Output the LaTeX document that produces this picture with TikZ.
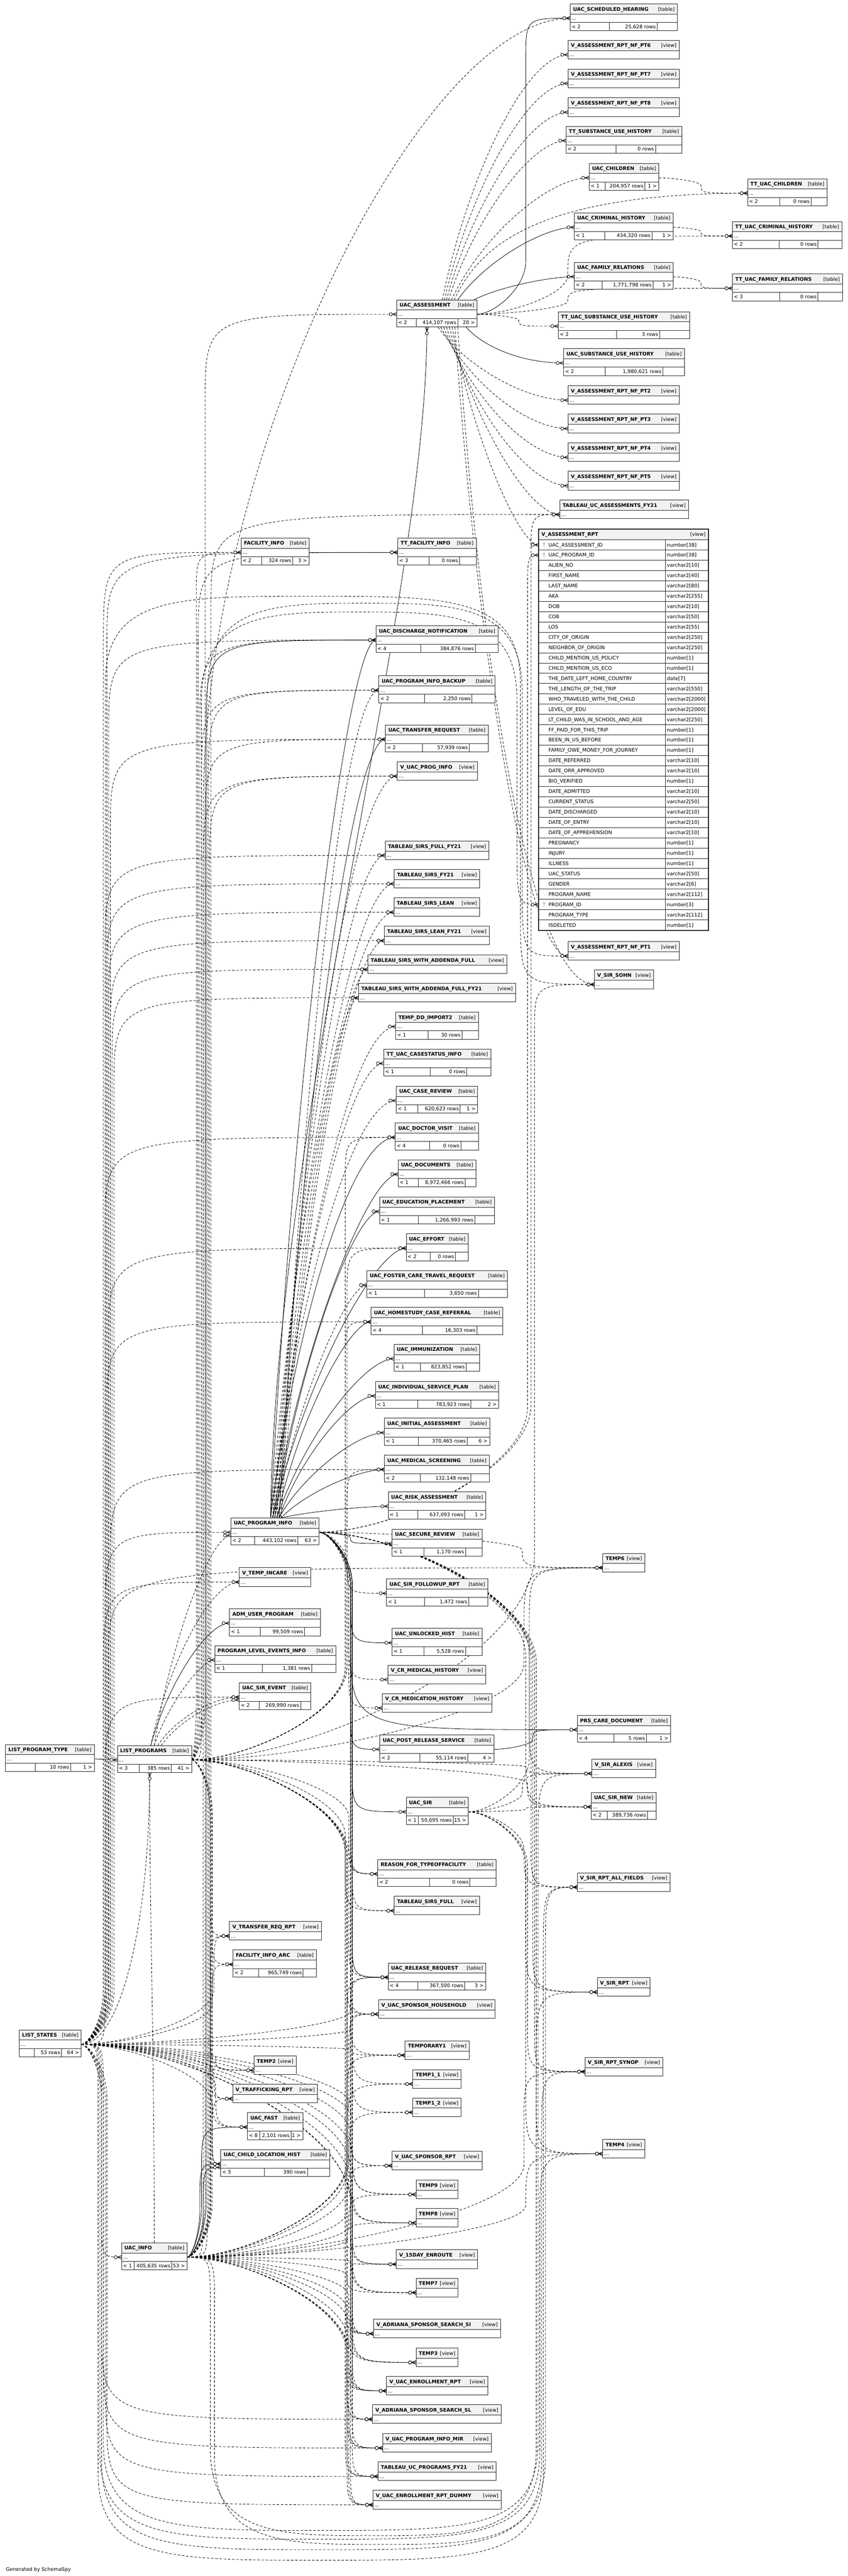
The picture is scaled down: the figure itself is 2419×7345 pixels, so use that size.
\documentclass[tikz,border=0pt]{standalone}
\usepackage{fontspec}
\setmainfont{DejaVu Sans}
\usetikzlibrary{calc}
\pgfdeclarelayer{bg}
\pgfsetlayers{bg,main}
\newcommand\ffr{\fontsize{14.2}{17}\selectfont}
\newcommand\ffb{\bfseries\fontsize{14.2}{17}\selectfont}
\tikzset{
  tline/.style={line width=1.4pt, draw=black!85},
  hdr/.style={fill=black!5},
  frame/.style={draw=black!85, line width=1.4pt, anchor=north west, inner sep=0pt, outer sep=0pt},
  txt/.style={inner sep=0pt, outer sep=0pt},
  ebase/.style={line width=1.2pt, draw=black},
  dsh/.style={ebase, dash pattern=on 7pt off 5pt},
  sol/.style={ebase},
}
\newcommand\MK[2][0]{\begin{scope}[shift={(#2)}, rotate=#1]
  \draw[line width=1.2pt] (-12,0) -- (0,5) (-12,0) -- (0,-5) (-12,0) -- (0,0);
  \draw[line width=1.2pt, fill=white] (-17,0) circle (4.5pt);
\end{scope}}
\newcommand\EE[4][dsh]{%
  \draw[#1] let \p1=(#2), \p2=(#3), \n5={(\y2>\y1)*2-1},
    \n3={min(max(150,0.6*abs(#4-\x1)),abs(\y2-\y1)/2)},
    \n4={min(max(120,0.8*abs(\x2-#4)),260,abs(\y2-\y1)/2)},
    \n6={\y1+\n5*\n3}, \n7={\y2-\n5*\n4},
    \n8={\x1+0.35*(#4-\x1)}, \n9={\y1+0.5*\n5*\n3} in
    (\p1) .. controls (\n8,\y1) and (#4,\n9) .. (#4,\n6) -- (#4,\n7) .. controls (#4,\y2) .. (\p2);
  \MK{#3}}
\newcommand\EV[4][dsh]{%
  \draw[#1] let \p1=(#2), \p2=(#3), \n1={0.5*(\y1+\y2)}, \n2={\x1+0.3*(#4-\x1)} in
    (\p1) .. controls (\n2,\n1) and (#4,\y2) .. (\p2);
  \MK{#3}}
% route below everything: parent, child, left channel x, bottom y, right channel x
\newcommand\EB[6][dsh]{%
  \draw[#1] let \p1=(#2), \p2=(#3) in
    (\p1) .. controls (#4,\y1) .. (#4,\y1-150) -- (#4,#5+250)
    .. controls (#4,#5) and (#4+200,#5) .. ({0.5*(#4+#6)},#5)
    .. controls (#6-200,#5) and (#6,#5) .. (#6,#5+250) -- (#6,\y2-200)
    .. controls (#6,\y2) .. (\p2);
  \MK{#3}}
% route over the top: parent, child, left channel x, top y, right channel x
\newcommand\EA[6][dsh]{%
  \draw[#1] let \p1=(#2), \p2=(#3) in
    (\p1) .. controls (#4,\y1) .. (#4,\y1+150) -- (#4,#5-250)
    .. controls (#4,#5) and (#4+200,#5) .. ({0.5*(#4+#6)},#5)
    .. controls (#6-200,#5) and (#6,#5) .. (#6,#5-250) -- (#6,\y2+200)
    .. controls (#6,\y2) .. (\p2);
  \MK{#3}}
\newcommand\TB[9]{\def\zid{#1}\def\zx{#2}\def\zy{#3}\def\zw{#4}\def\zt{#5}\def\zda{#6}\def\zdb{#7}\def\zl{#8}\def\zn{#9}\zfin}
\newcommand\zfin[1]{%
  \pgfmathsetmacro\zXr{\zx+\zw}%
  \pgfmathsetmacro\zYa{-\zy}%
  \pgfmathsetmacro\zYb{-\zy-29}%
  \pgfmathsetmacro\zYc{-\zy-53}%
  \pgfmathsetmacro\zYd{-\zy-77}%
  \pgfmathsetmacro\zYm{-\zy-41}%
  \fill[hdr] (\zx,\zYa) rectangle (\zXr,\zYb);
  \fill[white] (\zx,\zYb) rectangle (\zXr,\zYd);
  \draw[tline] (\zx,\zYb) -- (\zXr,\zYb) (\zx,\zYc) -- (\zXr,\zYc) (\zda,\zYc) -- (\zda,\zYd) (\zdb,\zYc) -- (\zdb,\zYd);
  \node[frame, minimum width=\zw pt, minimum height=77pt] (\zid) at (\zx,\zYa) {};
  \node[txt, font=\ffb, anchor=base west] (\zid-t) at (\zx+8,\zYa-20) {\expandafter\detokenize\expandafter{\zt}};
  \node[txt, font=\ffr, anchor=base east] (\zid-k) at (\zXr-8,\zYa-20) {[table]};
  \node[txt, font=\ffr, anchor=base west] (\zid-r) at (\zx+4,\zYa-46) {...};
  \node[txt, font=\ffr, anchor=base west] (\zid-a) at (\zx+4,\zYa-70) {\zl};
  \node[txt, font=\ffr, anchor=base east] (\zid-b) at (\zdb-4,\zYa-70) {\zn};
  \node[txt, font=\ffr, anchor=base east] (\zid-c) at (\zXr-6,\zYa-70) {#1};
  \coordinate (\zid-in) at (\zx,\zYm);
  \coordinate (\zid-out) at (\zXr,\zYm);
}
\newcommand\VW[5]{%
  \pgfmathsetmacro\zXr{#2+#4}%
  \pgfmathsetmacro\zYa{-#3}%
  \pgfmathsetmacro\zYb{-#3-29}%
  \pgfmathsetmacro\zYd{-#3-53}%
  \pgfmathsetmacro\zYm{-#3-41}%
  \fill[hdr] (#2,\zYa) rectangle (\zXr,\zYb);
  \fill[white] (#2,\zYb) rectangle (\zXr,\zYd);
  \draw[tline] (#2,\zYb) -- (\zXr,\zYb);
  \node[frame, minimum width=#4pt, minimum height=53pt] (#1) at (#2,\zYa) {};
  \node[txt, font=\ffb, anchor=base west] (#1-t) at (#2+8,\zYa-20) {\detokenize{#5}};
  \node[txt, font=\ffr, anchor=base east] (#1-k) at (\zXr-8,\zYa-20) {[view]};
  \node[txt, font=\ffr, anchor=base west] (#1-r) at (#2+4,\zYa-46) {...};
  \coordinate (#1-in) at (#2,\zYm);
  \coordinate (#1-out) at (\zXr,\zYm);
}
\begin{document}
\begin{tikzpicture}[x=1pt,y=1pt]
\useasboundingbox (0,0) rectangle (2419,-7345);
% ---------------- tables ----------------
\TB{sh}{1627}{11}{306}{UAC_SCHEDULED_HEARING}{1738}{1875}{< 2}{25,628 rows}{}
\VW{pt6}{1621}{115}{317}{V_ASSESSMENT_RPT_NF_PT6}
\VW{pt7}{1621}{197}{317}{V_ASSESSMENT_RPT_NF_PT7}
\VW{pt8}{1621}{279}{317}{V_ASSESSMENT_RPT_NF_PT8}
\TB{tsuh}{1615}{360}{330}{TT_SUBSTANCE_USE_HISTORY}{1758}{1870}{< 2}{0 rows}{}
\TB{ch}{1681}{466}{199}{UAC_CHILDREN}{1727}{1840}{< 1}{204,957 rows}{1 >}
\TB{tch}{2133}{510}{227}{TT_UAC_CHILDREN}{2225}{2314}{< 2}{0 rows}{}
\TB{crh}{1639}{607}{282}{UAC_CRIMINAL_HISTORY}{1725}{1860}{< 1}{434,320 rows}{1 >}
\TB{tcrh}{2090}{632}{312}{TT_UAC_CRIMINAL_HISTORY}{2224}{2334}{< 2}{0 rows}{}
\TB{fr}{1639}{748}{282}{UAC_FAMILY_RELATIONS}{1718}{1863}{< 2}{1,771,798 rows}{1 >}
\TB{tfr}{2090}{781}{314}{TT_UAC_FAMILY_RELATIONS}{2225}{2334}{< 3}{0 rows}{}
\TB{ua}{1132}{855}{229}{UAC_ASSESSMENT}{1187}{1306}{< 2}{414,107 rows}{20 >}
\TB{tsuh2}{1593}{889}{375}{TT_UAC_SUBSTANCE_USE_HISTORY}{1759}{1882}{< 2}{3 rows}{}
\TB{suh}{1608}{994}{345}{UAC_SUBSTANCE_USE_HISTORY}{1727}{1891}{< 2}{1,980,621 rows}{}
\VW{pt2}{1621}{1100}{317}{V_ASSESSMENT_RPT_NF_PT2}
\VW{pt3}{1621}{1181}{317}{V_ASSESSMENT_RPT_NF_PT3}
\VW{pt4}{1621}{1263}{317}{V_ASSESSMENT_RPT_NF_PT4}
\VW{pt5}{1621}{1344}{317}{V_ASSESSMENT_RPT_NF_PT5}
\VW{tua}{1597}{1426}{367}{TABLEAU_UC_ASSESSMENTS_FY21}
\VW{pt1}{1621}{2685}{317}{V_ASSESSMENT_RPT_NF_PT1}
\VW{sohn}{1696}{2766}{169}{V_SIR_SOHN}
\TB{fi}{688}{1534}{194}{FACILITY_INFO}{747}{835}{< 2}{324 rows}{3 >}
\TB{tfi}{1135}{1534}{224}{TT_FACILITY_INFO}{1225}{1311}{< 3}{0 rows}{}
\TB{dn}{1073}{1784}{348}{UAC_DISCHARGE_NOTIFICATION}{1201}{1356}{< 4}{384,876 rows}{}
\TB{pib}{1081}{1927}{332}{UAC_PROGRAM_INFO_BACKUP}{1211}{1347}{< 2}{2,250 rows}{}
\TB{tr}{1100}{2067}{293}{UAC_TRANSFER_REQUEST}{1205}{1339}{< 2}{57,939 rows}{}
\VW{vpi}{1134}{2172}{228}{V_UAC_PROG_INFO}
\VW{tsff}{1099}{2398}{296}{TABLEAU_SIRS_FULL_FY21}
\VW{tsf}{1125}{2479}{244}{TABLEAU_SIRS_FY21}
\VW{tsl}{1124}{2560}{245}{TABLEAU_SIRS_LEAN}
\VW{tslf}{1097}{2641}{299}{TABLEAU_SIRS_LEAN_FY21}
\VW{tswa}{1050}{2723}{396}{TABLEAU_SIRS_WITH_ADDENDA_FULL}
\VW{tswaf}{1023}{2804}{448}{TABLEAU_SIRS_WITH_ADDENDA_FULL_FY21}
\TB{tdd}{1129}{2886}{236}{TEMP_DD_IMPORT2}{1222}{1318}{< 1}{30 rows}{}
\TB{tcs}{1095}{2991}{305}{TT_UAC_CASESTATUS_INFO}{1227}{1332}{< 1}{0 rows}{}
\TB{cr}{1131}{3097}{232}{UAC_CASE_REVIEW}{1192}{1313}{< 1}{620,623 rows}{1 >}
\TB{dv}{1128}{3202}{237}{UAC_DOCTOR_VISIT}{1226}{1315}{< 4}{0 rows}{}
\TB{doc}{1136}{3307}{222}{UAC_DOCUMENTS}{1194}{1327}{< 1}{8,972,466 rows}{}
\TB{ep}{1083}{3413}{328}{UAC_EDUCATION_PLACEMENT}{1194}{1355}{< 1}{1,266,993 rows}{}
\TB{ef}{1159}{3518}{177}{UAC_EFFORT}{1227}{1300}{< 2}{0 rows}{}
\TB{fc}{1047}{3623}{401}{UAC_FOSTER_CARE_TRAVEL_REQUEST}{1211}{1365}{< 1}{3,650 rows}{}
\TB{hs}{1059}{3728}{376}{UAC_HOMESTUDY_CASE_REFERRAL}{1205}{1361}{< 4}{16,303 rows}{}
\TB{im}{1124}{3833}{245}{UAC_IMMUNIZATION}{1200}{1330}{< 1}{823,852 rows}{}
\TB{isp}{1071}{3939}{352}{UAC_INDIVIDUAL_SERVICE_PLAN}{1192}{1344}{< 1}{783,923 rows}{2 >}
\TB{ia}{1097}{4044}{300}{UAC_INITIAL_ASSESSMENT}{1194}{1333}{< 1}{370,465 rows}{6 >}
\TB{ms}{1097}{4149}{299}{UAC_MEDICAL_SCREENING}{1200}{1343}{< 2}{132,148 rows}{}
\TB{ra}{1108}{4254}{278}{UAC_RISK_ASSESSMENT}{1192}{1326}{< 1}{637,093 rows}{1 >}
\TB{pi}{659}{4328}{251}{UAC_PROGRAM_INFO}{726}{850}{< 2}{443,102 rows}{63 >}
\TB{sr}{1119}{4360}{256}{UAC_SECURE_REVIEW}{1209}{1328}{< 1}{1,170 rows}{}
\VW{ti}{683}{4470}{204}{V_TEMP_INCARE}
\TB{sfr}{1103}{4502}{289}{UAC_SIR_FOLLOWUP_RPT}{1211}{1337}{< 1}{1,472 rows}{}
\TB{aup}{655}{4587}{259}{ADM_USER_PROGRAM}{743}{869}{< 1}{99,509 rows}{}
\TB{uh}{1119}{4643}{256}{UAC_UNLOCKED_HIST}{1209}{1328}{< 1}{5,528 rows}{}
\TB{ple}{613}{4692}{345}{PROGRAM_LEVEL_EVENTS_INFO}{749}{889}{< 1}{1,381 rows}{}
\VW{cmh}{1107}{4748}{279}{V_CR_MEDICAL_HISTORY}
\TB{se}{683}{4798}{204}{UAC_SIR_EVENT}{739}{858}{< 2}{269,990 rows}{}
\VW{cmd}{1091}{4829}{313}{V_CR_MEDICATION_HISTORY}
\TB{prs}{1084}{4947}{325}{UAC_POST_RELEASE_SERVICE}{1198}{1335}{< 2}{55,114 rows}{4 >}
\TB{sir}{1159}{5125}{177}{UAC_SIR}{1194}{1293}{< 1}{50,695 rows}{15 >}
\TB{rtf}{1078}{5302}{338}{REASON_FOR_TYPEOFFACILITY}{1226}{1341}{< 2}{0 rows}{}
\VW{tsfull}{1125}{5407}{243}{TABLEAU_SIRS_FULL}
\VW{trr}{655}{5479}{262}{V_TRANSFER_REQ_RPT}
\TB{fia}{665}{5560}{238}{FACILITY_INFO_ARC}{738}{865}{< 2}{965,749 rows}{}
\TB{rr}{1108}{5597}{278}{UAC_RELEASE_REQUEST}{1192}{1326}{< 4}{367,500 rows}{3 >}
\VW{sh2}{1080}{5702}{333}{V_UAC_SPONSOR_HOUSEHOLD}
\VW{tmp1}{1156}{5819}{183}{TEMPORARY1}
\VW{temp2}{725}{5862}{120}{TEMP2}
\VW{t11}{1178}{5901}{138}{TEMP1_1}
\VW{traf}{664}{5943}{242}{V_TRAFFICKING_RPT}
\VW{t12}{1178}{5982}{138}{TEMP1_2}
\TB{fast}{706}{6024}{158}{UAC_FAST}{741}{830}{< 8}{2,101 rows}{1 >}
\TB{clh}{630}{6129}{311}{UAC_CHILD_LOCATION_HIST}{755}{877}{< 5}{390 rows}{}
\VW{vsr}{1119}{6134}{256}{V_UAC_SPONSOR_RPT}
\VW{t9}{1187}{6216}{120}{TEMP9}
\VW{t8}{1187}{6297}{120}{TEMP8}
\VW{enr}{1131}{6415}{232}{V_15DAY_ENROUTE}
\VW{t7}{1187}{6496}{120}{TEMP7}
\VW{asi}{1066}{6613}{362}{V_ADRIANA_SPONSOR_SEARCH_SI}
\VW{t3}{1187}{6695}{120}{TEMP3}
\VW{er}{1103}{6776}{289}{V_UAC_ENROLLMENT_RPT}
\VW{asl}{1063}{6857}{367}{V_ADRIANA_SPONSOR_SEARCH_SL}
\VW{mir}{1092}{6939}{310}{V_UAC_PROGRAM_INFO_MIR}
\VW{tup}{1079}{7020}{337}{TABLEAU_UC_PROGRAMS_FY21}
\VW{erd}{1064}{7101}{366}{V_UAC_ENROLLMENT_RPT_DUMMY}
\TB{lpt}{16}{4974}{253}{LIST_PROGRAM_TYPE}{101}{202}{}{10 rows}{1 >}
\TB{lp}{335}{4977}{212}{LIST_PROGRAMS}{398}{489}{< 3}{385 rows}{41 >}
\TB{ls}{55}{5788}{177}{LIST_STATES}{97}{176}{}{53 rows}{64 >}
\TB{ui}{347}{6395}{187}{UAC_INFO}{382}{490}{< 1}{405,635 rows}{53 >}
\VW{t6}{1720}{4429}{120}{TEMP6}
\TB{pcd}{1647}{4891}{266}{PRS_CARE_DOCUMENT}{1752}{1844}{< 4}{5 rows}{1 >}
\VW{alx}{1689}{5016}{181}{V_SIR_ALEXIS}
\TB{sn}{1687}{5111}{185}{UAC_SIR_NEW}{1732}{1847}{< 2}{389,736 rows}{}
\VW{raf}{1647}{5340}{265}{V_SIR_RPT_ALL_FIELDS}
\VW{vsrr}{1704}{5639}{151}{V_SIR_RPT}
\VW{syn}{1669}{5866}{222}{V_SIR_RPT_SYNOP}
\VW{t4}{1720}{6100}{120}{TEMP4}
% ---------------- V_ASSESSMENT_RPT ----------------
\fill[hdr] (1537,-1508) rectangle (2021,-1539);
\fill[white] (1537,-1539) rectangle (2021,-2652.4);
\draw[tline] (1537,-1539) -- (2021,-1539) (1899,-1539) -- (1899,-2652.4);
\foreach \nm/\ty [count=\i from 0] in {UAC_ASSESSMENT_ID/number[38],UAC_PROGRAM_ID/number[38],ALIEN_NO/varchar2[10],FIRST_NAME/varchar2[40],LAST_NAME/varchar2[80],AKA/varchar2[255],DOB/varchar2[10],COB/varchar2[50],LOS/varchar2[55],CITY_OF_ORIGIN/varchar2[250],NEIGHBOR_OF_ORIGIN/varchar2[250],CHILD_MENTION_US_POLICY/number[1],CHILD_MENTION_US_ECO/number[1],THE_DATE_LEFT_HOME_COUNTRY/date[7],THE_LENGTH_OF_THE_TRIP/varchar2[550],WHO_TRAVELED_WITH_THE_CHILD/varchar2[2000],LEVEL_OF_EDU/varchar2[2000],LT_CHILD_WAS_IN_SCHOOL_AND_AGE/varchar2[250],FF_PAID_FOR_THIS_TRIP/number[1],BEEN_IN_US_BEFORE/number[1],FAMILY_OWE_MONEY_FOR_JOURNEY/number[1],DATE_REFERRED/varchar2[10],DATE_ORR_APPROVED/varchar2[10],BIO_VERIFIED/number[1],DATE_ADMITTED/varchar2[10],CURRENT_STATUS/varchar2[50],DATE_DISCHARGED/varchar2[10],DATE_OF_ENTRY/varchar2[10],DATE_OF_APPREHENSION/varchar2[10],PREGNANCY/number[1],INJURY/number[1],ILLNESS/number[1],UAC_STATUS/varchar2[50],GENDER/varchar2[6],PROGRAM_NAME/varchar2[112],PROGRAM_ID/number[3],PROGRAM_TYPE/varchar2[112],ISDELETED/number[1]}{
  \pgfmathsetmacro\zrt{-1539-29.3*\i}
  \pgfmathsetmacro\zrb{-1539-29.3*(\i+1)}
  \draw[tline] (1537,\zrb) -- (2021,\zrb);
  \node[txt, font=\ffr, anchor=base west] (var-n\i) at (1565,\zrt-19.6) {\expandafter\detokenize\expandafter{\nm}};
  \node[txt, font=\ffr, anchor=base west] (var-y\i) at (1903,\zrt-19.6) {\ty};
}
\foreach \k in {0,1,35}{
  \pgfmathsetmacro\zkm{-1539-29.3*\k-14.65}
  \draw[black!30, line width=1.5pt] (1552,\zkm+4) circle (2.5pt) (1552,\zkm+1.5) -- (1552,\zkm-7);
}
\node[frame, line width=3pt, minimum width=484pt, minimum height=1144.4pt] (var) at (1537,-1508) {};
\node[txt, font=\ffb, anchor=base west] (var-t) at (1545,-1528) {\detokenize{V_ASSESSMENT_RPT}};
\node[txt, font=\ffr, anchor=base east] (var-k) at (2013,-1528) {[view]};
\coordinate (var-r0) at (1537,-1553.65);
\coordinate (var-r1) at (1537,-1582.95);
\coordinate (var-r35) at (1537,-2579.15);
\node[txt, font=\ffr, anchor=base west] (gen) at (17,-7331) {Generated by SchemaSpy};
% ---------------- extra anchors ----------------
\foreach \n/\xx in {1/1262,2/1268,3/1274,4/1280,5/1288,6/1296,7/1306,8/1352}{\coordinate (uat\n) at (\xx,-855);}
\foreach \n/\xx in {1/1250,2/1258,3/1266,4/1274,5/1282,6/1290,7/1298,8/1306,9/1330}{\coordinate (uab\n) at (\xx,-933);}
\foreach \n/\xx in {0/772,1/778,2/784,3/790,4/796,5/802}{\coordinate (pit\n) at (\xx,-4328);}
\foreach \n/\xx in {1/430,2/440,3/450,4/460}{\coordinate (lpt\n) at (\xx,-4977);}
\coordinate (ua-bot) at (1218,-933);
\coordinate (lp-bot) at (427,-5054);
\coordinate (ui-top) at (440,-6395);
\coordinate (se-in2) at (683,-4847);
\coordinate (pi-in2) at (659,-4378);
\coordinate (clh-in2) at (630,-6180);
% ---------------- connectors ----------------
\begin{pgfonlayer}{bg}
\fill[white] (0,0) rectangle (2419,-7345);
% UAC_ASSESSMENT
\EE[sol]{ua-out}{sh-in}{1500}
\EV{uat1}{pt6-in}{1500}
\EV{uat2}{pt7-in}{1505}
\EV{uat3}{pt8-in}{1510}
\EV{uat4}{tsuh-in}{1515}
\EV{uat5}{ch-in}{1560}
\EV{uat6}{tch-in}{1530}
\EV[sol]{uat7}{crh-in}{1545}
\EV[sol]{uat8}{fr-in}{1560}
\EE{ua-out}{tcrh-in}{1620}
\EE{ua-out}{tfr-in}{1620}
\EE{ua-out}{tsuh2-in}{1480}
\EV[sol]{uab9}{suh-in}{1480}
\EV{uab1}{pt2-in}{1490}
\EV{uab2}{pt3-in}{1495}
\EV{uab3}{pt4-in}{1500}
\EV{uab4}{pt5-in}{1505}
\EV{uab5}{tua-in}{1510}
\EV{uab6}{var-r0}{1480}
\EV{uab7}{pt1-in}{1500}
\EV{uab8}{sohn-in}{1510}
\EE{ch-out}{tch-in}{2000}
\EE{crh-out}{tcrh-in}{2000}
\EE{fr-out}{tfr-in}{2000}
\draw[dsh] (fi-out) -- (tfi-in); \MK{tfi-in}
% UAC_INFO
\EE{ui-out}{ua-in}{585}
\draw[dsh] (ui-out) .. controls (580,-6436) .. (580,-6286) -- (580,-2300) .. controls (580,-1300) and (1200,-52) .. (sh-in); \MK{sh-in}
\EE[sol]{ui-out}{dn-in}{588}
\EE{ui-out}{pib-in}{595}
\EE{ui-out}{vpi-in}{598}
\EE{ui-out}{tua-in}{602}
\EA{ui-out}{pt1-in}{592}{-1720}{1490}
\EE{ui-out}{trr-in}{600}
\EE{ui-out}{traf-in}{605}
\EE[sol]{ui-out}{fast-in}{575}
\EE[sol]{ui-out}{clh-in}{570}
\EE[sol]{ui-out}{clh-in2}{580}
\EE{ui-out}{vsr-in}{990}
\EE{ui-out}{t9-in}{995}
\EE{ui-out}{t8-in}{990}
\EE{ui-out}{enr-in}{995}
\EE{ui-out}{t7-in}{990}
\EE{ui-out}{asi-in}{995}
\EE{ui-out}{t3-in}{990}
\EE{ui-out}{er-in}{995}
\EE{ui-out}{asl-in}{990}
\EE{ui-out}{mir-in}{995}
\EE{ui-out}{tup-in}{990}
\EE{ui-out}{erd-in}{995}
\EE{ui-out}{sh2-in}{995}
\EE{ui-out}{tmp1-in}{990}
\EE{ui-out}{t11-in}{990}
\EE{ui-out}{t12-in}{995}
\EE{ui-out}{rr-in}{990}
\EE{ui-out}{t4-in}{1500}
\EE{ui-out}{syn-in}{1495}
\EB{ui-out}{vsrr-in}{600}{-7230}{1530}
\EB{ui-out}{raf-in}{612}{-7255}{1556}
\draw[dsh] (ui-top) .. controls (440,-5800) and (427,-5500) .. (lp-bot);
% LIST_STATES
\EE{ls-out}{ui-in}{290}
\EE{ls-out}{pi-in}{300}
\EE{ls-out}{fi-in}{295}
\EE{ls-out}{tfi-in}{305}
\EE{ls-out}{dn-in}{310}
\EE{ls-out}{tr-in}{315}
\EE{ls-out}{tsff-in}{300}
\EE{ls-out}{tsf-in}{305}
\EE{ls-out}{tsl-in}{310}
\EE{ls-out}{tslf-in}{315}
\EE{ls-out}{tswa-in}{320}
\EE{ls-out}{tswaf-in}{325}
\EE{ls-out}{dv-in}{300}
\EE{ls-out}{hs-in}{305}
\EE{ls-out}{ef-in}{310}
\EE{ls-out}{ms-in}{315}
\EE{ls-out}{ti-in}{295}
\EE{ls-out}{se-in}{300}
\EE{ls-out}{t6-in}{310}
\EA{ls-out}{sohn-in}{300}{-1700}{1485}
\EE{ls-out}{fia-in}{605}
\EE{ls-out}{trr-in}{610}
\EE{ls-out}{temp2-in}{615}
\EE{ls-out}{traf-in}{610}
\EE{ls-out}{fast-in}{615}
\EE{ls-out}{clh-in}{605}
\EE{ls-out}{sh2-in}{1000}
\EE{ls-out}{tmp1-in}{1005}
\EE{ls-out}{rr-in}{1000}
\EE{ls-out}{vsr-in}{1000}
\EE{ls-out}{t9-in}{1005}
\EE{ls-out}{t8-in}{1000}
\EE{ls-out}{enr-in}{1005}
\EE{ls-out}{t7-in}{1000}
\EE{ls-out}{asi-in}{1005}
\EE{ls-out}{t3-in}{1000}
\EE{ls-out}{er-in}{1005}
\EE{ls-out}{asl-in}{290}
\EE{ls-out}{mir-in}{295}
\EE{ls-out}{tup-in}{300}
\EE{ls-out}{erd-in}{305}
\EB{ls-out}{alx-in}{295}{-7215}{1535}
\EB{ls-out}{raf-in}{280}{-7300}{1550}
\EB{ls-out}{syn-in}{290}{-7270}{1545}
\EB{ls-out}{t4-in}{285}{-7240}{1540}
\draw[dsh] (ls-out) .. controls (340,-5829) and (427,-5500) .. (lp-bot);
\MK[90]{lp-bot}
% LIST_PROGRAMS
\draw[sol] (lpt-out) -- (lp-in); \MK{lp-in}
\EV[sol]{lpt1}{aup-in}{590}
\EV{lpt2}{ple-in}{575}
\EV{lpt3}{se-in}{600}
\EV{lpt4}{se-in2}{610}
\EV{lpt1}{ti-in}{600}
\EV{lpt2}{pi-in2}{600}
\EA{lp-out}{var-r35}{575}{-1745}{1475}
\EE{lp-out}{trr-in}{600}
\EE{lp-out}{fia-in}{605}
\EE{lp-out}{fi-in}{560}
\EE{lp-out}{tfi-in}{565}
\EE{lp-out}{dn-in}{570}
\EE{lp-out}{pib-in}{575}
\EE{lp-out}{vpi-in}{580}
\EE{lp-out}{tr-in}{585}
\EE{lp-out}{hs-in}{985}
\EE{lp-out}{dv-in}{985}
\EE{lp-out}{ef-in}{990}
\EE{lp-out}{ms-in}{990}
\EE{lp-out}{rtf-in}{995}
\EE{lp-out}{rr-in}{995}
\EE{lp-out}{sn-in}{1505}
\EE{lp-out}{sohn-in}{1525}
\EE{lp-out}{temp2-in}{600}
\EE{lp-out}{traf-in}{600}
\EE{lp-out}{clh-in}{605}
\EE{lp-out}{fast-in}{605}
\EE{lp-out}{tsfull-in}{985}
\EE{lp-out}{sh2-in}{990}
\EE{lp-out}{tup-in}{985}
\EE{lp-out}{mir-in}{990}
\EE{lp-out}{er-in}{985}
\EE{lp-out}{erd-in}{990}
\EE{lp-out}{asi-in}{985}
\EE{lp-out}{asl-in}{990}
\EE{lp-out}{alx-in}{1500}
\EE{lp-out}{t6-in}{1495}
% UAC_PROGRAM_INFO
\draw[sol] (pit0) .. controls (786,-3200) and (1218,-1700) .. (ua-bot); \MK[90]{ua-bot}
\EV[sol]{pit1}{doc-in}{1050}
\EV[sol]{pit2}{ep-in}{1010}
\EV[sol]{pit1}{ef-in}{1070}
\EV{pit2}{fc-in}{990}
\EV[sol]{pit3}{hs-in}{995}
\EV[sol]{pit3}{im-in}{1040}
\EV[sol]{pit4}{isp-in}{1000}
\EV[sol]{pit4}{ia-in}{1020}
\EV[sol]{pit5}{ms-in}{1020}
\EV[sol]{pit5}{ra-in}{1030}
\EV[sol]{pit0}{dv-in}{1000}
\EV{pit0}{cr-in}{1000}
\EV{pit1}{tcs-in}{990}
\EV{pit2}{tdd-in}{1000}
\EV{pit3}{tswaf-in}{960}
\EV{pit4}{tswa-in}{980}
\EV{pit5}{tslf-in}{995}
\EV{pit0}{tsl-in}{1000}
\EV{pit1}{tsf-in}{1000}
\EV{pit2}{tsff-in}{990}
\EV{pit3}{vpi-in}{1000}
\EV[sol]{pit4}{tr-in}{1000}
\EV{pit5}{pib-in}{980}
\EV[sol]{pit0}{dn-in}{990}
\EE[sol]{pi-out}{sr-in}{1000}
\EE{pi-out}{sfr-in}{990}
\EE[sol]{pi-out}{uh-in}{1000}
\EE{pi-out}{cmh-in}{995}
\EE{pi-out}{cmd-in}{995}
\EE[sol]{pi-out}{prs-in}{1000}
\EE[sol]{pi-out}{sir-in}{1005}
\EE[sol]{pi-out}{rtf-in}{1000}
\EE{pi-out}{tsfull-in}{1005}
\EE[sol]{pi-out}{rr-in}{1005}
\EE{pi-out}{sh2-in}{1000}
\EE{pi-out}{tmp1-in}{1000}
\EE{pi-out}{t11-in}{1005}
\EE{pi-out}{t12-in}{1005}
\EE{pi-out}{vsr-in}{1000}
\EE{pi-out}{t9-in}{1005}
\EE{pi-out}{t8-in}{1005}
\EE{pi-out}{enr-in}{1000}
\EE{pi-out}{t7-in}{1005}
\EE{pi-out}{asi-in}{1000}
\EE{pi-out}{t3-in}{1005}
\EE{pi-out}{er-in}{1000}
\EE{pi-out}{asl-in}{1000}
\EE{pi-out}{mir-in}{1005}
\EE{pi-out}{tup-in}{1005}
\EE{pi-out}{erd-in}{1000}
\EE[sol]{pi-out}{pcd-in}{1000}
\EE{pi-out}{t6-in}{1490}
\EE{pi-out}{var-r1}{1505}
\EE{pi-out}{tua-in}{1515}
\EE{pi-out}{sn-in}{1500}
\EE{pi-out}{alx-in}{1510}
\EE{pi-out}{raf-in}{1515}
\EE{pi-out}{vsrr-in}{1520}
\EE{pi-out}{syn-in}{1525}
\EE{pi-out}{t4-in}{1530}
% UAC_SIR, UAC_POST_RELEASE_SERVICE
\EE{sir-out}{sn-in}{1500}
\EE{sir-out}{alx-in}{1490}
\EE{sir-out}{raf-in}{1495}
\EE{sir-out}{vsrr-in}{1500}
\EE{sir-out}{syn-in}{1505}
\EE{sir-out}{t6-in}{1510}
\EE{sir-out}{t4-in}{1500}
\EE[sol]{prs-out}{pcd-in}{1520}
\end{pgfonlayer}
\end{tikzpicture}
\end{document}
